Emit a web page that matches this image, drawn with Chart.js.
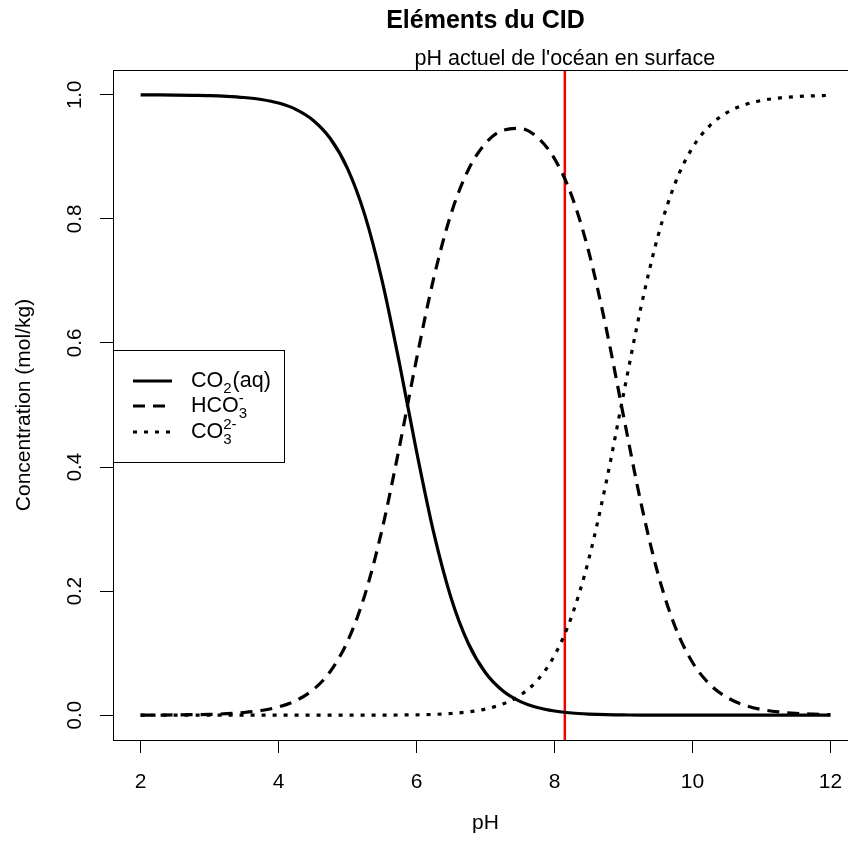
<!DOCTYPE html>
<html lang="fr">
<head>
<meta charset="UTF-8">
<title>Eléments du CID</title>
<script src="https://cdn.jsdelivr.net/npm/chart.js"></script>
<style>
    body { margin: 0; background: #fff; overflow: hidden; }
    canvas { display: block; }
</style>
</head>
<body>
<canvas id="cidChart" width="880" height="849"></canvas>
<script>
// Fractions of dissolved inorganic carbon vs pH
const phValues = [2, 2.25, 2.5, 2.75, 3, 3.25, 3.5, 3.75, 4, 4.25, 4.5, 4.75, 5, 5.25, 5.5, 5.75,
    6, 6.25, 6.5, 6.75, 7, 7.25, 7.5, 7.75, 8, 8.25, 8.5, 8.75, 9, 9.25, 9.5, 9.75,
    10, 10.25, 10.5, 10.75, 11, 11.25, 11.5, 11.75, 12];
const co2Values = [0.9999, 0.9998, 0.9996, 0.9992, 0.9987, 0.9976, 0.9957, 0.9925, 0.9867, 0.9766, 0.9591, 0.9295,
    0.8811, 0.8065, 0.7009, 0.5685, 0.4255, 0.2938, 0.1894, 0.1159, 0.0683, 0.0393, 0.0222, 0.0123,
    0.0067, 0.0035, 0.0018, 0.0008, 0.0004, 0.0001, 0.0001, 0, 0, 0, 0, 0, 0, 0, 0, 0, 0];
const hco3Values = [0.0001, 0.0002, 0.0004, 0.0008, 0.0013, 0.0024, 0.0043, 0.0075, 0.0133, 0.0234, 0.0409, 0.0705,
    0.1189, 0.1935, 0.2990, 0.4313, 0.5739, 0.7048, 0.8079, 0.8789, 0.9218, 0.9427, 0.9458, 0.9316,
    0.8972, 0.8371, 0.7456, 0.6235, 0.4826, 0.3442, 0.2279, 0.1423, 0.0853, 0.0499, 0.0287, 0.0163,
    0.0092, 0.0052, 0.0029, 0.0017, 0.0009];
const co3Values = [0, 0, 0, 0, 0, 0, 0, 0, 0, 0, 0, 0, 0, 0, 0.0001, 0.0003,
    0.0006, 0.0013, 0.0027, 0.0053, 0.0099, 0.0180, 0.0320, 0.0561, 0.0962, 0.1595, 0.2526, 0.3757,
    0.5171, 0.6557, 0.7721, 0.8577, 0.9147, 0.9501, 0.9713, 0.9837, 0.9908, 0.9948, 0.9971, 0.9983, 0.9991];
const phSurface = 8.15;
const xTicks = [2, 4, 6, 8, 10, 12];
const xTickLabels = ['2', '4', '6', '8', '10', '12'];
const yTicks = [0, 0.2, 0.4, 0.6, 0.8, 1.0];
const yTickLabels = ['0.0', '0.2', '0.4', '0.6', '0.8', '1.0'];

const FONT = '"Liberation Sans", Arial, sans-serif';
const DASHED = [12, 8];
const DOTTED = [4, 7];

function toPoints(ys) {
    return phValues.map((x, i) => ({ x: x, y: ys[i] }));
}

// text with chemistry sub/superscripts, e.g. CO3 2-
function drawChem(ctx, x, y, parts) {
    ctx.textBaseline = 'middle';
    ctx.textAlign = 'left';
    for (const p of parts) {
        if (p.t) {
            ctx.font = '21.5px ' + FONT;
            ctx.fillText(p.t, x, y);
            x += ctx.measureText(p.t).width;
        } else {
            ctx.font = '15px ' + FONT;
            let w = 0;
            if (p.sub) {
                ctx.fillText(p.sub, x, y + 8);
                w = ctx.measureText(p.sub).width;
            }
            if (p.sup) {
                ctx.fillText(p.sup, x, y - 7);
                w = Math.max(w, ctx.measureText(p.sup).width);
            }
            x += w + 1;
        }
    }
}

const rDecor = {
    id: 'rDecor',
    afterDraw(chart) {
        const ctx = chart.ctx;
        const area = chart.chartArea;
        const xs = chart.scales.x;
        const ys = chart.scales.y;
        ctx.save();
        ctx.fillStyle = '#000';
        ctx.strokeStyle = '#000';
        ctx.lineWidth = 1;
        ctx.strokeRect(area.left + 0.5, area.top + 0.5, area.right - area.left, area.bottom - area.top);

        ctx.textAlign = 'center';
        ctx.textBaseline = 'middle';
        ctx.font = '21px ' + FONT;
        xTicks.forEach((v, i) => {
            ctx.fillText(xTickLabels[i], xs.getPixelForValue(v), area.bottom + 42);
        });

        // y tick labels, rotated like R
        ctx.font = '20.5px ' + FONT;
        yTicks.forEach((v, i) => {
            ctx.save();
            ctx.translate(area.left - 38, ys.getPixelForValue(v));
            ctx.rotate(-Math.PI / 2);
            ctx.fillText(yTickLabels[i], 0, 0);
            ctx.restore();
        });

        const midX = (area.left + area.right) / 2;
        ctx.font = 'bold 25px ' + FONT;
        ctx.fillText('Eléments du CID', midX, 21);
        ctx.font = '21.5px ' + FONT;
        ctx.fillText("pH actuel de l'océan en surface", xs.getPixelForValue(phSurface), 59);
        ctx.font = '21px ' + FONT;
        ctx.fillText('pH', midX, 823);
        ctx.save();
        ctx.translate(24, (area.top + area.bottom) / 2);
        ctx.rotate(-Math.PI / 2);
        ctx.fillText('Concentration (mol/kg)', 0, 0);
        ctx.restore();

        // legend box
        const lx = area.left, ly = 350, lw = 171, lh = 112;
        ctx.fillStyle = '#fff';
        ctx.fillRect(lx, ly, lw, lh);
        ctx.strokeRect(lx + 0.5, ly + 0.5, lw, lh);
        const rows = [
            { y: 381, dash: [], parts: [{ t: 'CO' }, { sub: '2' }, { t: '(aq)' }] },
            { y: 406, dash: DASHED, parts: [{ t: 'HCO' }, { sub: '3', sup: '-' }] },
            { y: 432, dash: DOTTED, parts: [{ t: 'CO' }, { sub: '3', sup: '2-' }] }
        ];
        ctx.fillStyle = '#000';
        rows.forEach(r => {
            ctx.beginPath();
            ctx.setLineDash(r.dash);
            ctx.lineWidth = 3;
            ctx.moveTo(lx + 20, r.y);
            ctx.lineTo(lx + 59, r.y);
            ctx.stroke();
            ctx.setLineDash([]);
            drawChem(ctx, lx + 78, r.y, r.parts);
        });
        ctx.restore();
    }
};

const lineStyle = {
    borderColor: '#000',
    borderWidth: 3.2,
    pointRadius: 0,
    fill: false,
    cubicInterpolationMode: 'monotone'
};

new Chart(document.getElementById('cidChart'), {
    type: 'line',
    data: {
        datasets: [
            Object.assign({ label: 'CO2(aq)', data: toPoints(co2Values) }, lineStyle),
            Object.assign({ label: 'HCO3-', data: toPoints(hco3Values), borderDash: DASHED }, lineStyle),
            Object.assign({ label: 'CO3 2-', data: toPoints(co3Values), borderDash: DOTTED }, lineStyle),
            {
                label: 'pH surface',
                data: [{ x: phSurface, y: -0.04 }, { x: phSurface, y: 1.04 }],
                borderColor: '#f20000',
                borderWidth: 2.5,
                pointRadius: 0
            }
        ]
    },
    options: {
        responsive: false,
        animation: false,
        layout: { padding: { top: 70, right: 22, left: 0, bottom: 0 } },
        plugins: { legend: { display: false }, tooltip: { enabled: false } },
        scales: {
            x: {
                type: 'linear',
                min: 1.6,
                max: 12.4,
                afterBuildTicks: s => { s.ticks = xTicks.map(v => ({ value: v })); },
                afterFit: s => { s.height = 109; },
                grid: { drawOnChartArea: false, tickLength: 13, color: '#000' },
                border: { display: false },
                ticks: { display: false }
            },
            y: {
                type: 'linear',
                min: -0.04,
                max: 1.04,
                afterBuildTicks: s => { s.ticks = yTicks.map(v => ({ value: v })); },
                afterFit: s => { s.width = 113; },
                grid: { drawOnChartArea: false, tickLength: 13, color: '#000' },
                border: { display: false },
                ticks: { display: false }
            }
        }
    },
    plugins: [rDecor]
});
</script>
</body>
</html>
